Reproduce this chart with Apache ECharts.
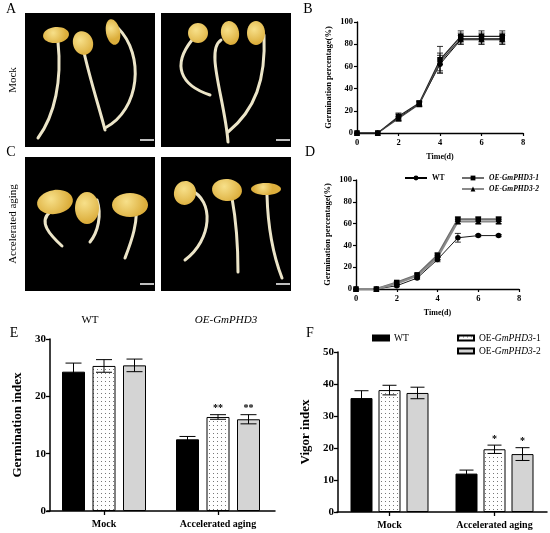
<!DOCTYPE html>
<html>
<head>
<meta charset="utf-8">
<script src="https://cdn.jsdelivr.net/npm/echarts@6/dist/echarts.min.js"></script>
<style>
  html, body { margin: 0; padding: 0; background: #fff; }
  #wrap { position: relative; width: 550px; height: 533px; }
  .layer { position: absolute; left: 0; top: 0; width: 550px; height: 533px; }
</style>
</head>
<body>
<div id="wrap">
  <div class="layer" id="photos"></div>
  <div class="layer" id="chart-b"></div>
  <div class="layer" id="chart-d"></div>
  <div class="layer" id="chart-e"></div>
  <div class="layer" id="chart-f"></div>
</div>
<script>
// ---- data ----
const days = [0, 1, 2, 3, 4, 5, 6, 7];

// B: mock germination (%)
const bWT     = [0, 0, 14, 26, 62, 84, 84, 84];
const bWTErr  = [0, 0, 3, 2, 8, 4, 4, 4];
const bOE1    = [0, 0, 15, 27, 66, 87, 87, 87];
const bOE1Err = [0, 0, 3, 2, 12, 5, 5, 5];
const bOE2    = [0, 0, 13, 26, 64, 85, 85, 85];
const bOE2Err = [0, 0, 2, 2, 8, 5, 5, 5];

// D: accelerated aging germination (%)
const dWT     = [0, 0, 3, 10, 27, 47, 49, 49];
const dWTErr  = [0, 0, 1, 1, 2, 4, 1, 1];
const dOE1    = [0, 0, 6, 13, 31, 64, 64, 64];
const dOE1Err = [0, 0, 1, 1, 2, 2, 2, 2];
const dOE2    = [0, 0, 5, 12, 29, 62, 62, 62];
const dOE2Err = [0, 0, 1, 1, 2, 2, 2, 2];

// E / F: bar charts
const groups = ['Mock', 'Accelerated aging'];
const lineNames = ['WT', 'OE-GmPHD3-1', 'OE-GmPHD3-2'];

const eWT      = [24.3, 12.5];
const eWTErr   = [1.5, 0.5];
const eOE1     = [25.3, 16.4];
const eOE1Err  = [1.1, 0.4];
const eOE2     = [25.4, 16.0];
const eOE2Err  = [1.1, 0.8];
const eStars   = [['', ''], ['', '**'], ['', '**']];

const fWT      = [35.6, 12.0];
const fWTErr   = [2.3, 1.1];
const fOE1     = [38.1, 19.6];
const fOE1Err  = [1.5, 1.3];
const fOE2     = [37.2, 18.1];
const fOE2Err  = [1.8, 2.0];
const fStars   = [['', ''], ['', '*'], ['', '*']];

const SERIF = 'Liberation Serif, Times New Roman, serif';

// dotted fill for OE-GmPHD3-1 bars
const dotCanvas = document.createElement('canvas');
dotCanvas.width = 4; dotCanvas.height = 4;
(function () {
  const ctx = dotCanvas.getContext('2d');
  ctx.fillStyle = '#fff';
  ctx.fillRect(0, 0, 4, 4);
  ctx.fillStyle = '#777';
  ctx.fillRect(1, 1, 1, 1);
})();
const dotFill = { image: dotCanvas, repeat: 'repeat' };

// ---- photo panels (placeholders drawn as shapes) ----
function seedling(seed, stem) {
  return [
    {
      type: 'bezierCurve',
      shape: { x1: stem[0], y1: stem[1], cpx1: stem[2], cpy1: stem[3], cpx2: stem[4], cpy2: stem[5], x2: stem[6], y2: stem[7] },
      style: { stroke: '#ece5c8', lineWidth: 3, fill: null, lineCap: 'round' }
    },
    {
      type: 'ellipse',
      x: seed[0], y: seed[1], rotation: seed[4],
      shape: { cx: 0, cy: 0, rx: seed[2], ry: seed[3] },
      style: {
        fill: new echarts.graphic.RadialGradient(0.4, 0.35, 0.8, [
          { offset: 0, color: '#f7e08a' },
          { offset: 1, color: '#dcae3c' }
        ])
      }
    }
  ];
}

const photoBoxes = [[25, 13], [161, 13], [25, 157], [161, 157]];
const plants = [
  [[56, 35, 13, 8, 0.1], [58, 42, 62, 80, 55, 115, 38, 138]],
  [[83, 43, 10, 12, 0.3], [83, 48, 90, 80, 100, 110, 105, 130]],
  [[113, 32, 7, 13, 0.2], [118, 28, 145, 55, 140, 110, 105, 128]],
  [[198, 33, 10, 10, 0], [192, 40, 172, 65, 180, 85, 210, 95]],
  [[230, 33, 9, 12, 0.2], [221, 40, 205, 50, 225, 100, 228, 142]],
  [[256, 33, 9, 12, 0], [264, 35, 266, 80, 255, 110, 228, 132]],
  [[55, 202, 18, 12, 0.15], [50, 212, 38, 222, 50, 235, 62, 246]],
  [[87, 208, 12, 16, 0], [97, 200, 102, 215, 98, 232, 90, 242]],
  [[130, 205, 18, 12, 0], [135, 200, 140, 220, 130, 245, 125, 258]],
  [[185, 193, 11, 12, -0.3], [190, 190, 215, 200, 212, 240, 185, 260]],
  [[227, 190, 15, 11, -0.1], [232, 198, 236, 220, 238, 250, 238, 272]],
  [[266, 189, 15, 6, 0], [267, 195, 268, 230, 275, 260, 282, 278]]
];

function label(text, x, y, size, extra) {
  return Object.assign({
    type: 'text', x: x, y: y,
    style: { text: text, fontSize: size, fontFamily: SERIF, fill: '#000', align: 'center', verticalAlign: 'middle' }
  }, extra || {});
}

const photoGraphic = [];
photoBoxes.forEach(function (b) {
  photoGraphic.push({ type: 'rect', shape: { x: b[0], y: b[1], width: 130, height: 134 }, style: { fill: '#000' } });
  photoGraphic.push({ type: 'line', shape: { x1: b[0] + 115, y1: b[1] + 127, x2: b[0] + 129, y2: b[1] + 127 }, style: { stroke: '#fff', lineWidth: 1.5 } });
});
plants.forEach(function (p) { seedling(p[0], p[1]).forEach(function (g) { photoGraphic.push(g); }); });
photoGraphic.push(label('A', 11, 9, 14));
photoGraphic.push(label('B', 308, 9, 14));
photoGraphic.push(label('C', 11, 152, 14));
photoGraphic.push(label('D', 310, 152, 14));
photoGraphic.push(label('E', 14, 333, 14));
photoGraphic.push(label('F', 310, 333, 14));
photoGraphic.push(label('Mock', 13, 80, 11, { rotation: Math.PI / 2 }));
photoGraphic.push(label('Accelerated aging', 13, 224, 11, { rotation: Math.PI / 2 }));
photoGraphic.push(label('WT', 90, 320, 11));
photoGraphic.push(label('OE-GmPHD3', 226, 320, 11, {}));
photoGraphic[photoGraphic.length - 1].style.fontStyle = 'italic';

echarts.init(document.getElementById('photos')).setOption({ animation: false, graphic: photoGraphic });

// ---- helpers ----
function pointErrors(vals, errs) {
  return days.map(function (d, i) { return [d, vals[i], errs[i]]; });
}

function lineErrRender(params, api) {
  const x = api.value(0), y = api.value(1), e = api.value(2);
  if (!e) return null;
  const hi = api.coord([x, y + e]);
  const lo = api.coord([x, y - e]);
  const st = { stroke: '#000', lineWidth: 0.8 };
  return {
    type: 'group',
    children: [
      { type: 'line', shape: { x1: hi[0], y1: hi[1], x2: lo[0], y2: lo[1] }, style: st },
      { type: 'line', shape: { x1: hi[0] - 3, y1: hi[1], x2: hi[0] + 3, y2: hi[1] }, style: st },
      { type: 'line', shape: { x1: lo[0] - 3, y1: lo[1], x2: lo[0] + 3, y2: lo[1] }, style: st }
    ]
  };
}

function lineAxes(grid) {
  const axisLine = { show: true, lineStyle: { color: '#000', width: 1.4 } };
  const lbl = { color: '#000', fontFamily: SERIF, fontWeight: 'bold', fontSize: 8.5 };
  return {
    grid: grid,
    xAxis: {
      type: 'value', min: 0, max: 8, interval: 2,
      axisLine: axisLine, axisTick: { show: true, length: 3, lineStyle: { color: '#000', width: 1.2 } },
      splitLine: { show: false }, axisLabel: Object.assign({ margin: 5 }, lbl),
      name: 'Time(d)', nameLocation: 'middle', nameGap: 20,
      nameTextStyle: { color: '#000', fontFamily: SERIF, fontWeight: 'bold', fontSize: 8 }
    },
    yAxis: {
      type: 'value', min: 0, max: 100, interval: 20,
      axisLine: axisLine, axisTick: { show: true, length: 3, lineStyle: { color: '#000', width: 1.2 } },
      splitLine: { show: false }, axisLabel: Object.assign({ margin: 4 }, lbl),
      name: 'Germination percentage(%)', nameLocation: 'middle', nameGap: 24,
      nameTextStyle: { color: '#000', fontFamily: SERIF, fontWeight: 'bold', fontSize: 8.5 }
    }
  };
}

function lineSeries(vals, errs, idx, styles) {
  const symbols = ['circle', 'rect', 'triangle'];
  const s = styles[idx];
  return [
    {
      type: 'custom', name: lineNames[idx] + ' err', z: 1,
      renderItem: lineErrRender, data: pointErrors(vals, errs), silent: true
    },
    {
      type: 'line', name: lineNames[idx], z: 3,
      data: days.map(function (d, i) { return [d, vals[i]]; }),
      symbol: symbols[idx], symbolSize: idx === 2 ? 6 : 5.5,
      itemStyle: { color: '#000' },
      lineStyle: { color: s.color, width: s.width }
    }
  ];
}

// ---- B ----
const bStyles = [{ color: '#000', width: 1 }, { color: '#222', width: 1.2 }, { color: '#444', width: 1.2 }];
const bOpt = lineAxes({ left: 357, top: 22, width: 166, height: 111 });
bOpt.animation = false;
bOpt.series = [].concat(
  lineSeries(bWT, bWTErr, 0, bStyles),
  lineSeries(bOE1, bOE1Err, 1, bStyles),
  lineSeries(bOE2, bOE2Err, 2, bStyles)
);
echarts.init(document.getElementById('chart-b')).setOption(bOpt);

// ---- D ----
const dStyles = [{ color: '#000', width: 0.9 }, { color: '#6e6e6e', width: 2 }, { color: '#8a8a8a', width: 2 }];
const dOpt = lineAxes({ left: 356, top: 180, width: 163, height: 109 });
dOpt.animation = false;
dOpt.series = [].concat(
  lineSeries(dWT, dWTErr, 0, dStyles),
  lineSeries(dOE1, dOE1Err, 1, dStyles),
  lineSeries(dOE2, dOE2Err, 2, dStyles)
);
const dLegendText = { color: '#000', fontFamily: SERIF, fontWeight: 'bold', fontSize: 7.5 };
dOpt.legend = [
  { data: ['WT'], left: 399, top: 169, itemWidth: 22, itemHeight: 6, textStyle: dLegendText },
  { data: ['OE-GmPHD3-1'], left: 456, top: 169, itemWidth: 22, itemHeight: 6, textStyle: Object.assign({ fontStyle: 'italic' }, dLegendText) },
  { data: ['OE-GmPHD3-2'], left: 456, top: 180, itemWidth: 22, itemHeight: 6, textStyle: Object.assign({ fontStyle: 'italic' }, dLegendText) }
];
echarts.init(document.getElementById('chart-d')).setOption(dOpt);

// ---- bar charts ----
function barChart(el, grid, yMax, yName, yOffset, bw, gap, cap, vals, errs, stars, legend) {
  const fills = ['#000', dotFill, '#d4d4d4'];
  const step = bw + gap;
  const series = [];
  vals.forEach(function (v, k) {
    series.push({
      type: 'bar', name: lineNames[k], data: v, barWidth: bw, barGap: (gap / bw * 100) + '%',
      itemStyle: { color: fills[k], borderColor: '#000', borderWidth: 1 }, z: 2
    });
  });
  vals.forEach(function (v, k) {
    series.push({
      type: 'custom', name: lineNames[k] + ' err', z: 4, silent: true,
      data: v.map(function (val, i) { return [i, val, errs[k][i]]; }),
      renderItem: function (params, api) {
        const i = api.value(0), y = api.value(1), e = api.value(2);
        const off = (k - 1) * step;
        const hi = api.coord([i, y + e]);
        const lo = api.coord([i, y - e]);
        const x = hi[0] + off;
        const st = { stroke: '#000', lineWidth: 1 };
        const kids = [
          { type: 'line', shape: { x1: x, y1: hi[1], x2: x, y2: lo[1] }, style: st },
          { type: 'line', shape: { x1: x - cap, y1: hi[1], x2: x + cap, y2: hi[1] }, style: st },
          { type: 'line', shape: { x1: x - cap, y1: lo[1], x2: x + cap, y2: lo[1] }, style: st }
        ];
        const s = stars[k][params.dataIndex];
        if (s) {
          kids.push({
            type: 'text', x: x, y: hi[1] - 1,
            style: { text: s, fontSize: 10, fontWeight: 'bold', fontFamily: SERIF, fill: '#000', align: 'center', verticalAlign: 'bottom' }
          });
        }
        return { type: 'group', children: kids };
      }
    });
  });
  const opt = {
    animation: false,
    grid: grid,
    xAxis: {
      type: 'category', data: groups,
      axisLine: { show: true, lineStyle: { color: '#000', width: 1.5 } },
      axisTick: { show: true, alignWithLabel: true, length: 4, lineStyle: { color: '#000', width: 1.3 } },
      axisLabel: { color: '#000', fontFamily: SERIF, fontWeight: 'bold', fontSize: 10, margin: 8 }
    },
    yAxis: {
      type: 'value', min: 0, max: yMax, interval: 10, offset: yOffset,
      axisLine: { show: true, lineStyle: { color: '#000', width: 1.5 } },
      axisTick: { show: true, length: 4, lineStyle: { color: '#000', width: 1.3 } },
      splitLine: { show: false },
      axisLabel: { color: '#000', fontFamily: SERIF, fontWeight: 'bold', fontSize: 11, margin: 4 },
      name: yName, nameLocation: 'middle', nameGap: 26,
      nameTextStyle: { color: '#000', fontFamily: SERIF, fontWeight: 'bold', fontSize: 13 }
    },
    series: series
  };
  if (legend) opt.legend = legend;
  echarts.init(document.getElementById(el)).setOption(opt);
}

barChart('chart-e', { left: 47, top: 339, width: 228, height: 172 }, 30, 'Germination index', -3,
  23, 7.5, 8, [eWT, eOE1, eOE2], [eWTErr, eOE1Err, eOE2Err], eStars, null);

const fLegendText = {
  color: '#000', fontFamily: SERIF, fontSize: 9.5,
  rich: { i: { fontFamily: SERIF, fontSize: 9.5, fontStyle: 'italic', color: '#000' } }
};
function fmtName(name) { return name.replace('GmPHD3', '{i|GmPHD3}'); }
barChart('chart-f', { left: 337, top: 352, width: 210, height: 160 }, 50, 'Vigor index', -1,
  22, 6, 7, [fWT, fOE1, fOE2], [fWTErr, fOE1Err, fOE2Err], fStars, [
    { data: ['WT'], left: 367, top: 328, icon: 'rect', itemWidth: 16, itemHeight: 5, textStyle: fLegendText, formatter: fmtName },
    { data: ['OE-GmPHD3-1'], left: 452, top: 328, icon: 'rect', itemWidth: 16, itemHeight: 5, textStyle: fLegendText, formatter: fmtName },
    { data: ['OE-GmPHD3-2'], left: 452, top: 341, icon: 'rect', itemWidth: 16, itemHeight: 5, textStyle: fLegendText, formatter: fmtName }
  ]);
</script>
</body>
</html>
